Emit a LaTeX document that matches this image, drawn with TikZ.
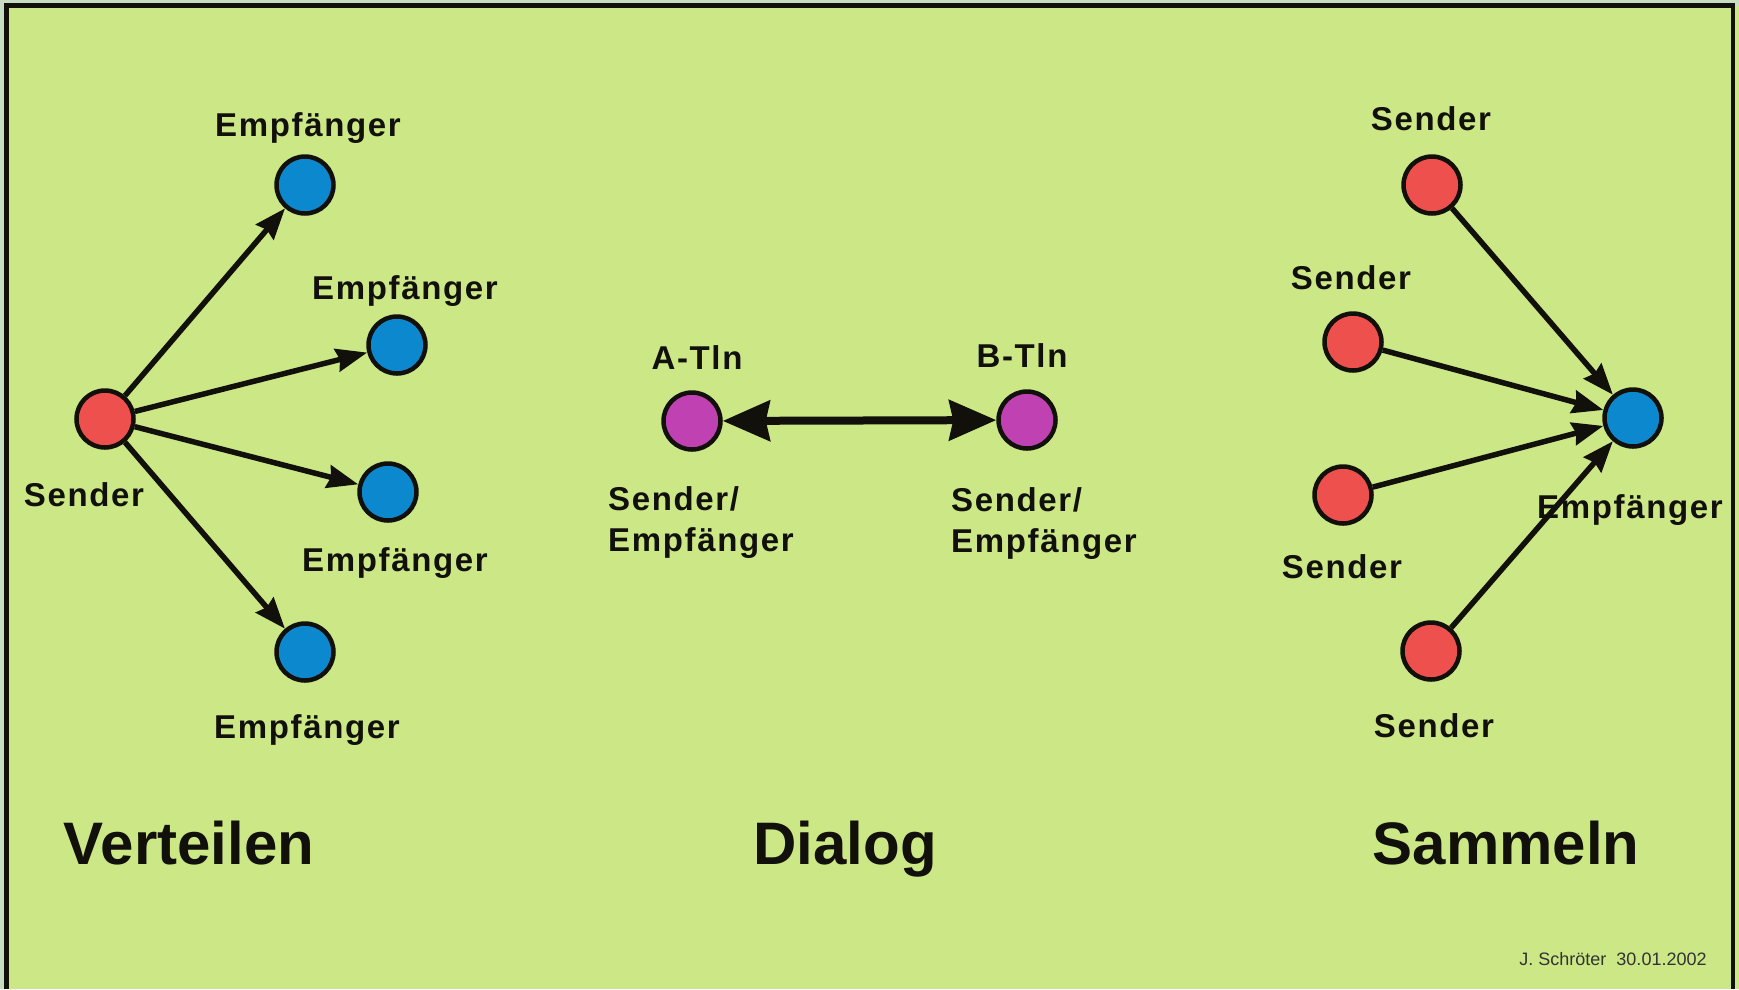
\documentclass[tikz,border=0pt]{standalone}
\usepackage{fontspec}
\setmainfont{Liberation Sans}
\newfontfamily\lsp[LetterSpace=5]{Liberation Sans}
\usetikzlibrary{arrows.meta}
\definecolor{bggreen}{RGB}{204,232,134}
\definecolor{marble}{RGB}{200,220,196}
\definecolor{sred}{RGB}{238,80,78}
\definecolor{rblue}{RGB}{12,136,206}
\definecolor{dmag}{RGB}{192,66,178}
\definecolor{ink}{RGB}{18,16,10}
\tikzset{
  dot/.style={circle, draw=ink, line width=4.5pt, minimum size=57pt, inner sep=0pt},
  snd/.style={dot, fill=sred},
  rcv/.style={dot, fill=rblue},
  dlg/.style={dot, fill=dmag},
  lab/.style={font=\lsp\bfseries\fontsize{33}{41}\selectfont, text=ink, inner sep=0pt, anchor=base},
  twolab/.style={lab, align=left, anchor=north west},
  ttl/.style={font=\bfseries\fontsize{60}{66}\selectfont, text=ink, inner sep=0pt, anchor=base},
  sig/.style={font=\fontsize{18}{20}\selectfont, text=black!80, inner sep=0pt, anchor=base},
  arr/.style={draw=ink, line width=5.5pt, -{Stealth[length=31pt,width=23pt,inset=3pt]}},
  darr/.style={draw=ink, line width=8pt, {Stealth[length=47pt,width=40pt,inset=4pt]}-{Stealth[length=47pt,width=40pt,inset=4pt]}}
}
\begin{document}
\begin{tikzpicture}[x=1pt,y=-1pt]
\useasboundingbox (0,0) rectangle (1739,989);
\fill[marble] (0,0) rectangle (1739,989);
\fill[bggreen] (6.5,5.5) rectangle (1739,989);
\draw[ink, line width=4.5pt] (6.5,989) -- (6.5,5.5) -- (1733,5.5) -- (1733,989);

% Verteilen
\node[snd] (s0) at (105,419) {};
\node[rcv] (e1) at (305,185) {};
\node[rcv] (e2) at (397,345) {};
\node[rcv] (e3) at (388,492) {};
\node[rcv] (e4) at (305,652) {};
\node[lab] (le1) at (308,136) {Empfänger};
\node[lab] (le2) at (405,299) {Empfänger};
\node[lab] (ls0) at (84,506) {Sender};
\node[lab] (le3) at (395,571) {Empfänger};
\node[lab] (le4) at (307,738) {Empfänger};
\draw[arr] (s0) -- (e1);
\draw[arr] (s0) -- (e2);
\draw[arr] (s0) -- (e3);
\draw[arr] (s0) -- (e4);

% Dialog
\node[dlg] (a) at (692,421) {};
\node[dlg] (b) at (1027,420) {};
\node[lab] (la) at (697,369) {A-Tln};
\node[lab] (lb) at (1022,367) {B-Tln};
\node[twolab] (lsa) at (608,486) {Sender/\\Empfänger};
\node[twolab] (lsb) at (951,487) {Sender/\\Empfänger};
\draw[darr] (a) -- (b);

% Sammeln
\node[rcv] (rc) at (1633,418) {};
\node[snd] (r1) at (1432,185) {};
\node[snd] (r2) at (1353,342) {};
\node[snd] (r3) at (1343,495) {};
\node[snd] (r4) at (1431,651) {};
\node[lab] (lr1) at (1431,130) {Sender};
\node[lab] (lr2) at (1351,289) {Sender};
\node[lab] (lr3) at (1342,578) {Sender};
\node[lab] (lr4) at (1434,737) {Sender};
\node[lab] (lrc) at (1630,518) {Empfänger};
\draw[arr] (r1) -- (rc);
\draw[arr] (r2) -- (rc);
\draw[arr] (r3) -- (rc);
\draw[arr] (r4) -- (rc);

% titles
\node[ttl] (t1) at (189,864) {Verteilen};
\node[ttl] (t2) at (845,864) {Dialog};
\node[ttl] (t3) at (1506,864) {Sammeln};
\node[sig] (sg) at (1613,965) {J. Schröter\ \ 30.01.2002};
\end{tikzpicture}
\end{document}
